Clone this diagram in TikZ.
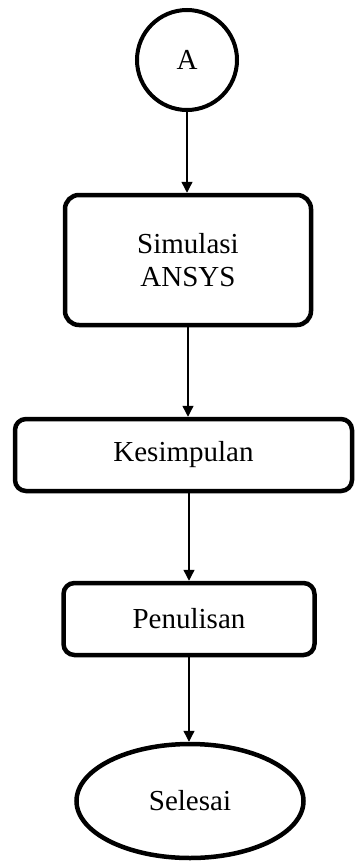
\documentclass[tikz,border=0pt]{standalone}
\usepackage{fontspec}
\setmainfont{Liberation Serif}
\usetikzlibrary{shapes.geometric, arrows.meta}
\begin{document}
\begin{tikzpicture}[x=1pt, y=-1pt, >={Triangle[length=11pt,width=11pt]},
  every node/.style={font=\fontsize{29}{33}\selectfont, inner sep=0pt},
  blok/.style={draw, line width=4.5pt, rounded corners=11pt, align=center},
  panah/.style={->, line width=1.3pt}]
\useasboundingbox (0,0) rectangle (354,865);
\node[draw, circle, line width=4pt, minimum size=100pt] (A) at (187,60) {A};
\node[blok, rounded corners=14pt, minimum width=246pt, minimum height=130pt] (sim) at (188,260) {Simulasi\\ANSYS};
\node[blok, minimum width=337pt, minimum height=72pt] (kes) at (183.5,455) {Kesimpulan};
\node[blok, minimum width=251pt, minimum height=72pt] (pen) at (189,619) {Penulisan};
\node[draw, ellipse, line width=4.5pt, minimum width=227pt, minimum height=114pt] (sel) at (190,801) {Selesai};
\draw[panah](A.south)--(A.south |- sim.north);
\draw[panah](sim.south)--(sim.south |- kes.north);
\draw[panah](pen.north |- kes.south)--(pen.north);
\draw[panah](pen.south)--(pen.south |- sel.north);
\end{tikzpicture}
\end{document}
